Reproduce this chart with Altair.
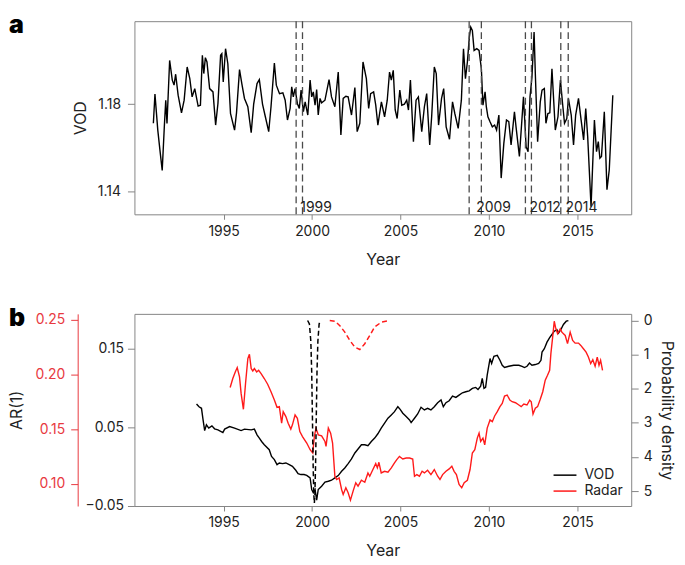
import altair as alt
import pandas as pd

FONT = "Inter"
TXT = "#222222"
GRAY = "#858585"
RED = "#ff1a1a"
RED_AXIS = "#e8393f"

# ---------------- panel a : VOD time series ----------------
vod_year = [1991.03, 1991.12, 1991.28, 1991.40, 1991.53, 1991.65, 1991.73, 1991.80, 1991.95, 1992.10,
            1992.20, 1992.29, 1992.43, 1992.62, 1992.77, 1992.94, 1993.09, 1993.22, 1993.37, 1993.56,
            1993.69, 1993.80, 1993.88, 1993.97, 1994.06, 1994.21, 1994.40, 1994.55, 1994.68, 1994.83,
            1994.90, 1994.98, 1995.11, 1995.24, 1995.39, 1995.62, 1995.73, 1995.90, 1996.03, 1996.18,
            1996.37, 1996.56, 1996.70, 1996.89, 1997.02, 1997.20, 1997.36, 1997.55, 1997.68, 1997.87,
            1997.98, 1998.16, 1998.35, 1998.48, 1998.61, 1998.76, 1998.85, 1998.94, 1999.04, 1999.17,
            1999.28, 1999.38, 1999.51, 1999.61, 1999.76, 1999.89, 1999.98, 2000.07, 2000.17, 2000.26,
            2000.35, 2000.45, 2000.54, 2000.73, 2000.96, 2001.10, 2001.29, 2001.48, 2001.63, 2001.76,
            2001.91, 2002.04, 2002.23, 2002.42, 2002.55, 2002.70, 2002.88, 2003.07, 2003.20, 2003.31,
            2003.48, 2003.60, 2003.72, 2003.92, 2004.10, 2004.25, 2004.38, 2004.48, 2004.59, 2004.70,
            2004.81, 2004.96, 2005.07, 2005.22, 2005.35, 2005.45, 2005.56, 2005.73, 2005.88, 2006.01,
            2006.20, 2006.35, 2006.48, 2006.65, 2006.76, 2006.91, 2007.02, 2007.15, 2007.32, 2007.44,
            2007.58, 2007.77, 2007.94, 2008.07, 2008.26, 2008.44, 2008.56, 2008.67, 2008.78, 2008.89,
            2008.97, 2009.06, 2009.16, 2009.31, 2009.44, 2009.57, 2009.66, 2009.78, 2009.85, 2009.94,
            2010.06, 2010.19, 2010.32, 2010.43, 2010.56, 2010.69, 2010.84, 2010.99, 2011.12, 2011.25,
            2011.44, 2011.53, 2011.72, 2011.95, 2012.10, 2012.21, 2012.32, 2012.43, 2012.55, 2012.62,
            2012.75, 2012.90, 2013.00, 2013.13, 2013.22, 2013.33, 2013.44, 2013.56, 2013.75, 2013.90,
            2014.04, 2014.16, 2014.27, 2014.40, 2014.49, 2014.65, 2014.78, 2014.90, 2015.06, 2015.21,
            2015.35, 2015.47, 2015.58, 2015.77, 2015.96, 2016.08, 2016.18, 2016.27, 2016.36, 2016.52,
            2016.67, 2016.80, 2017.00]
vod_value = [1.1712, 1.1846, 1.1681, 1.1590, 1.1496, 1.1697, 1.1818, 1.1711, 1.2000, 1.1910,
             1.1887, 1.1937, 1.1841, 1.1760, 1.1818, 1.1970, 1.1917, 1.1833, 1.1871, 1.1791,
             1.1795, 1.2024, 1.1940, 1.2013, 1.1993, 1.1871, 1.1856, 1.1704, 1.1803, 1.2024,
             1.2031, 1.1902, 1.2054, 1.1985, 1.1757, 1.1681, 1.1760, 1.1958, 1.1894, 1.1826,
             1.1788, 1.1669, 1.1800, 1.1894, 1.1912, 1.1800, 1.1742, 1.1674, 1.1788, 1.1988,
             1.1887, 1.1848, 1.1852, 1.1818, 1.1727, 1.1780, 1.1879, 1.1833, 1.1871, 1.1803,
             1.1780, 1.1864, 1.1765, 1.1810, 1.1750, 1.1910, 1.1833, 1.1856, 1.1795, 1.1867,
             1.1750, 1.1826, 1.1806, 1.1818, 1.1912, 1.1833, 1.1788, 1.1947, 1.1659, 1.1826,
             1.1836, 1.1833, 1.1750, 1.1876, 1.1674, 1.1712, 1.1993, 1.1917, 1.1780, 1.1848,
             1.1856, 1.1795, 1.1704, 1.1810, 1.1742, 1.1818, 1.1947, 1.1910, 1.1955, 1.1773,
             1.1734, 1.1864, 1.1795, 1.1800, 1.1818, 1.1773, 1.1910, 1.1628, 1.1818, 1.1833,
             1.1674, 1.1788, 1.1848, 1.1613, 1.1742, 1.1970, 1.1940, 1.1704, 1.1826, 1.1871,
             1.1696, 1.1639, 1.1810, 1.1757, 1.1689, 1.1818, 1.2054, 1.1917, 1.1993, 1.2107,
             1.2153, 1.2138, 1.2046, 1.2054, 1.2046, 1.1962, 1.1795, 1.1856, 1.1788, 1.1742,
             1.1719, 1.1696, 1.1704, 1.1681, 1.1750, 1.1461, 1.1620, 1.1727, 1.1720, 1.1613,
             1.1765, 1.1696, 1.1560, 1.1833, 1.1605, 1.1582, 1.1833, 1.1925, 1.2130, 1.1940,
             1.1628, 1.1810, 1.1864, 1.1871, 1.1712, 1.1757, 1.1760, 1.1962, 1.1681, 1.1742,
             1.1910, 1.1803, 1.1712, 1.1734, 1.1826, 1.1750, 1.1613, 1.1750, 1.1826, 1.1727,
             1.1636, 1.1780, 1.1651, 1.1330, 1.1727, 1.1582, 1.1628, 1.1552, 1.1560, 1.1765,
             1.1408, 1.1499, 1.1841]

event_start = [1999.10, 2008.88, 2012.06, 2014.06]
event_end = [1999.46, 2009.57, 2012.40, 2014.48]
event_label = ["1999", "2009", "2012", "2014"]

# ---------------- panel b : AR(1) and probability density ----------------
ar_vod_year = [1993.47, 1993.61, 1993.75, 1993.84, 1993.93, 1994.03, 1994.16, 1994.34, 1994.49, 1994.68,
               1994.96, 1995.06, 1995.34, 1995.62, 1995.99, 1996.18, 1996.56, 1996.74, 1996.89, 1997.02,
               1997.15, 1997.30, 1997.58, 1997.71, 1997.87, 1998.02, 1998.15, 1998.33, 1998.52, 1998.71,
               1998.89, 1999.08, 1999.21, 1999.37, 1999.55, 1999.70, 1999.89, 1999.98, 2000.07, 2000.17,
               2000.26, 2000.35, 2000.54, 2000.73, 2000.92, 2001.10, 2001.29, 2001.48, 2001.67, 2001.85,
               2002.04, 2002.23, 2002.42, 2002.60, 2002.79, 2002.98, 2003.16, 2003.35, 2003.54, 2003.72,
               2003.91, 2004.10, 2004.29, 2004.48, 2004.66, 2004.85, 2004.98, 2005.13, 2005.32, 2005.51,
               2005.60, 2005.79, 2005.97, 2006.16, 2006.35, 2006.53, 2006.72, 2006.91, 2007.10, 2007.29,
               2007.42, 2007.57, 2007.75, 2007.94, 2008.13, 2008.31, 2008.50, 2008.69, 2008.88, 2009.06,
               2009.25, 2009.38, 2009.53, 2009.62, 2009.72, 2009.81, 2009.90, 2010.06, 2010.15, 2010.28,
               2010.47, 2010.62, 2010.75, 2010.88, 2011.12, 2011.40, 2011.69, 2011.87, 2012.01, 2012.15,
               2012.29, 2012.43, 2012.62, 2012.81, 2012.94, 2013.00, 2013.13, 2013.28, 2013.43, 2013.56,
               2013.69, 2013.84, 2013.93, 2014.06, 2014.21, 2014.37, 2014.49]
ar_vod_value = [0.0797, 0.0762, 0.0742, 0.0594, 0.0459, 0.0531, 0.0490, 0.0519, 0.0481, 0.0468,
                0.0434, 0.0477, 0.0510, 0.0490, 0.0459, 0.0477, 0.0468, 0.0477, 0.0405, 0.0363,
                0.0320, 0.0279, 0.0216, 0.0131, 0.0089, 0.0026, 0.0047, 0.0039, 0.0047, 0.0026,
                0.0005, -0.0046, -0.0088, -0.0100, -0.0100, -0.0110, -0.0142, -0.0290, -0.0331, -0.0290,
                -0.0425, -0.0290, -0.0248, -0.0197, -0.0185, -0.0172, -0.0142, -0.0113, -0.0058, -0.0016,
                0.0039, 0.0098, 0.0174, 0.0224, 0.0279, 0.0279, 0.0266, 0.0320, 0.0363, 0.0418,
                0.0490, 0.0553, 0.0616, 0.0658, 0.0699, 0.0762, 0.0729, 0.0679, 0.0637, 0.0594,
                0.0560, 0.0616, 0.0670, 0.0755, 0.0721, 0.0742, 0.0721, 0.0762, 0.0813, 0.0847,
                0.0762, 0.0813, 0.0838, 0.0898, 0.0881, 0.0910, 0.0939, 0.0952, 0.0964, 0.0995,
                0.1007, 0.0982, 0.1024, 0.1121, 0.0995, 0.1007, 0.1163, 0.1374, 0.1311, 0.1403,
                0.1415, 0.1352, 0.1289, 0.1260, 0.1276, 0.1289, 0.1289, 0.1276, 0.1260, 0.1276,
                0.1318, 0.1289, 0.1298, 0.1311, 0.1352, 0.1457, 0.1500, 0.1583, 0.1639, 0.1680,
                0.1722, 0.1740, 0.1697, 0.1740, 0.1807, 0.1849, 0.1857]

ar_radar_year = [1995.37, 1995.52, 1995.66, 1995.77, 1995.90, 1995.99, 1996.12, 1996.24, 1996.37, 1996.46,
                 1996.56, 1996.65, 1996.74, 1996.87, 1996.98, 1997.12, 1997.30, 1997.49, 1997.68, 1997.87,
                 1998.02, 1998.15, 1998.28, 1998.37, 1998.52, 1998.65, 1998.80, 1998.89, 1999.04, 1999.17,
                 1999.31, 1999.46, 1999.70, 1999.89, 2000.04, 2000.13, 2000.22, 2000.35, 2000.54, 2000.73,
                 2000.79, 2000.92, 2001.05, 2001.16, 2001.29, 2001.39, 2001.53, 2001.67, 2001.76, 2001.91,
                 2002.04, 2002.17, 2002.32, 2002.47, 2002.60, 2002.79, 2002.98, 2003.16, 2003.26, 2003.44,
                 2003.60, 2003.69, 2003.78, 2003.91, 2004.10, 2004.29, 2004.48, 2004.66, 2004.79, 2004.94,
                 2005.13, 2005.32, 2005.51, 2005.69, 2005.79, 2005.92, 2006.07, 2006.22, 2006.35, 2006.53,
                 2006.72, 2006.91, 2007.10, 2007.23, 2007.38, 2007.57, 2007.75, 2007.90, 2008.03, 2008.16,
                 2008.31, 2008.46, 2008.60, 2008.78, 2008.93, 2009.06, 2009.20, 2009.34, 2009.44, 2009.53,
                 2009.66, 2009.76, 2009.90, 2010.06, 2010.19, 2010.32, 2010.47, 2010.62, 2010.75, 2010.88,
                 2011.03, 2011.18, 2011.31, 2011.50, 2011.69, 2011.82, 2011.97, 2012.15, 2012.30, 2012.39,
                 2012.49, 2012.62, 2012.75, 2012.90, 2013.04, 2013.18, 2013.31, 2013.43, 2013.50, 2013.60,
                 2013.69, 2013.76, 2013.88, 2014.03, 2014.12, 2014.31, 2014.44, 2014.59, 2014.73, 2014.87,
                 2015.06, 2015.19, 2015.34, 2015.49, 2015.62, 2015.75, 2015.87, 2016.00, 2016.12, 2016.22,
                 2016.31, 2016.42]
ar_radar_value = [0.1880, 0.1962, 0.2022, 0.2062, 0.1977, 0.1826, 0.1681, 0.1917, 0.2144, 0.2183,
                  0.2053, 0.2031, 0.2053, 0.2022, 0.2037, 0.2007, 0.1962, 0.1910, 0.1841, 0.1765,
                  0.1699, 0.1705, 0.1554, 0.1659, 0.1614, 0.1554, 0.1500, 0.1539, 0.1629, 0.1599,
                  0.1478, 0.1432, 0.1373, 0.1312, 0.1282, 0.1432, 0.1509, 0.1448, 0.1439, 0.1387,
                  0.1342, 0.1509, 0.1463, 0.1373, 0.1070, 0.1040, 0.1055, 0.0949, 0.0904, 0.0964,
                  0.0919, 0.0852, 0.0934, 0.1010, 0.0979, 0.1033, 0.1015, 0.1100, 0.1070, 0.1131,
                  0.1185, 0.1146, 0.1197, 0.1100, 0.1115, 0.1106, 0.1146, 0.1191, 0.1221, 0.1251,
                  0.1227, 0.1236, 0.1236, 0.1227, 0.1070, 0.1085, 0.1070, 0.1115, 0.1100, 0.1124,
                  0.1085, 0.1131, 0.1070, 0.1040, 0.1085, 0.1115, 0.1137, 0.1161, 0.1115, 0.1085,
                  0.0994, 0.0964, 0.1010, 0.1033, 0.1131, 0.1282, 0.1312, 0.1418, 0.1463, 0.1387,
                  0.1418, 0.1357, 0.1509, 0.1584, 0.1568, 0.1620, 0.1659, 0.1705, 0.1735, 0.1802,
                  0.1811, 0.1765, 0.1750, 0.1741, 0.1720, 0.1705, 0.1729, 0.1720, 0.1765, 0.1750,
                  0.1638, 0.1690, 0.1705, 0.1772, 0.1841, 0.1947, 0.1992, 0.2037, 0.2189, 0.2340,
                  0.2485, 0.2430, 0.2370, 0.2416, 0.2385, 0.2355, 0.2280, 0.2385, 0.2310, 0.2285,
                  0.2285, 0.2264, 0.2234, 0.2203, 0.2158, 0.2098, 0.2134, 0.2074, 0.2158, 0.2083,
                  0.2128, 0.2037]

dens_vod_year = [1999.75, 1999.85, 1999.93, 1999.98, 2000.02, 2000.06, 2000.10, 2000.13, 2000.16,
                 2000.20, 2000.24, 2000.28, 2000.33, 2000.40, 2000.48]
dens_vod_value = [0.0, 0.1, 0.6, 1.5, 2.8, 4.2, 5.1, 5.35, 5.1, 4.2, 2.8, 1.5, 0.6, 0.1, 0.0]
dens_radar_year = [2001.00, 2001.30, 2001.57, 2001.85, 2002.13, 2002.42, 2002.70, 2002.98, 2003.26,
                   2003.54, 2003.91, 2004.40]
dens_radar_value = [0.0, 0.02, 0.15, 0.34, 0.58, 0.78, 0.85, 0.68, 0.44, 0.19, 0.05, 0.0]

series_names = ["VOD", "Radar"]
series_colors = ["#000000", RED]
panel_letters = ["a", "b"]
ar_title = ["AR(1)"]

x_ticks = [1995, 2000, 2005, 2010, 2015]
vod_ticks = [1.14, 1.18]
ar_vod_ticks = [-0.05, 0.05, 0.15]
ar_radar_ticks = [0.10, 0.15, 0.20, 0.25]
dens_ticks = [0, 1, 2, 3, 4, 5]

# ---------------- tables ----------------
df_a = pd.DataFrame({"year": vod_year, "vod": vod_value})
df_ev = pd.DataFrame({"start": event_start, "end": event_end, "label": event_label})
df_vod_ar = pd.DataFrame({"year": ar_vod_year, "ar": ar_vod_value, "series": "VOD"})
df_radar_ar = pd.DataFrame({"year": ar_radar_year, "ar": ar_radar_value, "series": "Radar"})
df_dens = pd.concat([
    pd.DataFrame({"year": dens_vod_year, "dens": dens_vod_value, "series": "VOD"}),
    pd.DataFrame({"year": dens_radar_year, "dens": dens_radar_value, "series": "Radar"}),
])
df_leg = pd.DataFrame({"series": series_names})

W = 499
HA = 194
HB = 193
X_DOMAIN = [1989.96, 2018.04]

xscale = alt.Scale(domain=X_DOMAIN, nice=False, zero=False)
x_axis = alt.Axis(values=x_ticks, format="d", title="Year", tickSize=5, domain=False, grid=False,
                  labelPadding=5, titlePadding=13)
color_enc = alt.Color("series:N", scale=alt.Scale(domain=series_names, range=series_colors), legend=None)


def letter(ch):
    return alt.Chart(pd.DataFrame({"t": [ch]})).mark_text(
        align="left", baseline="top", fontSize=25, fontWeight=900, font=FONT, color="#000000"
    ).encode(x=alt.value(-126), y=alt.value(-8), text="t:N")


# ----- panel a -----
line_a = alt.Chart(df_a).mark_line(color="#000000", strokeWidth=1.4).encode(
    x=alt.X("year:Q", scale=xscale, axis=x_axis),
    y=alt.Y("vod:Q", scale=alt.Scale(domain=[1.1295, 1.218], nice=False, zero=False),
            axis=alt.Axis(values=vod_ticks, format=".2f", title="VOD", tickSize=7, labelPadding=7,
                          titlePadding=9, domain=False, grid=False)),
)
rules_a = alt.Chart(df_ev).transform_fold(["start", "end"], as_=["edge", "pos"]).mark_rule(
    color="#4a4a4a", strokeDash=[7, 4], strokeWidth=1.3
).encode(x=alt.X("pos:Q", scale=xscale, axis=x_axis))
text_a = alt.Chart(df_ev).transform_calculate(mid="(datum.start + datum.end) / 2").mark_text(
    align="left", baseline="alphabetic", dx=1, fontSize=14, font=FONT, color=TXT
).encode(x=alt.X("mid:Q", scale=xscale, axis=x_axis), y=alt.value(HA - 2), text="label:N")

panel_a = alt.layer(line_a, rules_a, text_a, letter(panel_letters[0])).properties(width=W, height=HA)

# ----- panel b -----
line_vod = alt.Chart(df_vod_ar).mark_line(strokeWidth=1.4).encode(
    x=alt.X("year:Q", scale=xscale, axis=x_axis),
    y=alt.Y("ar:Q", scale=alt.Scale(domain=[-0.05, 0.1942], nice=False, zero=False),
            axis=alt.Axis(orient="left", values=ar_vod_ticks, format=".2f", title=None, tickSize=7,
                          labelPadding=4, domain=False, grid=False)),
    color=color_enc,
)
line_radar = alt.Chart(df_radar_ar).mark_line(strokeWidth=1.4).encode(
    x=alt.X("year:Q", scale=xscale, axis=x_axis),
    y=alt.Y("ar:Q", scale=alt.Scale(domain=[0.0798, 0.2552], nice=False, zero=False),
            axis=alt.Axis(orient="left", offset=57, values=ar_radar_ticks, format=".2f", title=None,
                          tickSize=7, labelPadding=6, domain=True, domainColor=RED_AXIS,
                          tickColor=RED_AXIS, labelColor=RED_AXIS, grid=False)),
    color=color_enc,
)
dens = alt.Chart(df_dens).mark_line(strokeWidth=1.5, strokeDash=[5, 3]).encode(
    x=alt.X("year:Q", scale=xscale, axis=x_axis),
    y=alt.Y("dens:Q", scale=alt.Scale(domain=[-0.195, 5.437], nice=False, zero=False, reverse=True),
            axis=alt.Axis(orient="right", values=dens_ticks, format="d", title="Probability density",
                          tickSize=7, labelPadding=5, titlePadding=6, domain=False, grid=False)),
    color=color_enc,
)
leg_y = alt.Y("series:N", scale=alt.Scale(type="point", domain=series_names, range=[162, 178], padding=0),
              axis=None)
leg_rule = alt.Chart(df_leg).mark_rule(strokeWidth=1.5).encode(
    x=alt.value(421), x2=alt.value(444), y=leg_y, color=color_enc
)
leg_text = alt.Chart(df_leg).mark_text(align="left", baseline="middle", fontSize=14, font=FONT,
                                        color=TXT).encode(
    x=alt.value(452), y=leg_y, text="series:N"
)
ar_label = alt.Chart(pd.DataFrame({"t": ar_title})).mark_text(
    align="center", baseline="middle", angle=270, fontSize=16, font=FONT, color=TXT
).encode(x=alt.value(-118), y=alt.value(97), text="t:N")

panel_b = alt.layer(line_vod, line_radar, dens, leg_rule, leg_text, ar_label,
                    letter(panel_letters[1])).resolve_scale(y="independent").properties(width=W, height=HB)

chart = alt.vconcat(panel_a, panel_b, spacing=100, bounds="flush").properties(
    padding={"left": 0, "top": 3, "right": 2, "bottom": 2}
).configure_view(stroke=GRAY, strokeWidth=1).configure_axis(
    labelFont=FONT, titleFont=FONT, labelFontSize=14, titleFontSize=16, labelColor=TXT,
    titleColor=TXT, tickColor=GRAY, titleFontWeight="normal"
)

chart.save("out.html", embed_options={"renderer": "svg", "actions": False})
